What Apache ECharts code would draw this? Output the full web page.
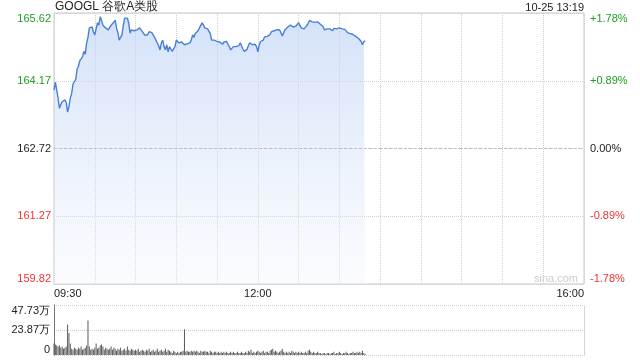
<!DOCTYPE html>
<html>
<head>
<meta charset="utf-8">
<script src="https://cdn.jsdelivr.net/npm/echarts@6/dist/echarts.min.js"></script>
<style>
html,body{margin:0;padding:0;background:#fff;}
#c{width:640px;height:360px;}
</style>
</head>
<body>
<div id="c"></div>
<script>
// ---- data ----
const titleText = 'GOOGL 谷歌A类股';
const timeStamp = '10-25 13:19';
const prevClose = 162.72;
const priceRange = 2.90;      // ±1.78%
const priceStep = 1.45;
const timeLabels = {0: '09:30', 150: '12:00', 390: '16:00'};
const totalMinutes = 390;
// per-minute price from 09:30
const prices = [
163.97,164.14,164.12,163.80,163.58,163.66,163.72,163.68,163.76,163.70,
163.50,163.62,163.80,163.90,164.10,164.14,164.20,164.42,164.48,164.60,
164.62,164.68,164.80,164.74,164.98,165.10,165.30,165.26,165.32,165.22,
165.15,165.28,165.41,165.36,165.54,165.46,165.36,165.40,165.30,165.34,
165.26,165.30,165.36,165.32,165.42,165.47,165.30,165.20,165.04,165.10,
165.15,165.36,165.51,165.48,165.51,165.40,165.19,165.26,165.30,165.24,
165.28,165.26,165.22,165.30,165.26,165.22,165.18,165.14,165.11,165.16,
165.22,165.18,165.20,165.15,165.10,165.04,165.01,164.92,164.83,164.98,
165.04,164.90,164.83,164.94,164.79,164.90,164.85,164.80,164.76,164.90,
165.04,165.00,164.98,164.96,165.00,164.98,164.94,164.94,164.96,164.92,
164.98,165.04,165.15,165.10,165.18,165.19,165.24,165.30,165.34,165.41,
165.36,165.30,165.26,165.28,165.26,165.18,165.04,165.06,165.04,165.02,
165.01,164.98,165.00,164.98,164.95,165.00,164.98,165.01,164.95,164.90,
164.83,164.86,164.90,164.94,164.90,164.86,164.92,164.98,164.92,164.85,
164.80,164.76,164.84,164.92,164.98,164.96,164.94,164.92,164.95,164.90,
164.79,164.94,165.01,165.00,165.04,165.11,165.08,165.12,165.11,165.16,
165.22,165.20,165.24,165.22,165.26,165.24,165.26,165.27,165.13,165.20,
165.26,165.30,165.32,165.30,165.36,165.34,165.32,165.30,165.34,165.36,
165.41,165.38,165.30,165.32,165.28,165.30,165.35,165.40,165.46,165.44,
165.43,165.45,165.42,165.41,165.43,165.40,165.38,165.36,165.33,165.26,
165.29,165.28,165.26,165.28,165.26,165.24,165.29,165.26,165.28,165.27,
165.30,165.31,165.28,165.30,165.27,165.24,165.20,165.21,165.18,165.19,
165.16,165.15,165.12,165.10,165.08,165.04,165.01,164.94,165.01,165.02
];
// per-minute volume, 万 shares
const volumes = [
11,10,9,8,9,7,8,6,7,8,
29,21,11,6,5,7,6,5,7,6,
8,5,6,7,9,33,8,5,6,5,
7,11,6,7,9,10,8,5,7,6,
5,6,8,5,7,6,4,6,5,7,
4,5,6,4,8,5,4,6,5,4,
5,4,6,3,4,5,4,3,5,4,
6,3,4,5,3,4,6,3,4,5,
3,4,6,3,5,4,3,2,4,3,
2,3,2,3,3,4,24.5,3,4,3,
3,4,3,4,3,4,3,2,4,3,
3,4,3,3,2,4,3,2,3,3,
2,3,2,3,2,3,2,3,2,2,
3,2,3,2,2,3,2,2,3,2,
2,3,2,4,3,5,2,3,2,3,
4,3,2,3,4,2,3,3,2,4,
5,6,3,4,3,2,3,4,6,3,
2,3,2,3,2,4,3,2,3,2,
3,2,3,2,2,3,2,4,5,3,
2,3,2,2,3,2,2,1,2,2,
1,2,2,1,2,2,3,1,2,2,
3,2,1,2,2,3,2,1,2,2,
3,2,2,3,2,3,2,4,2,1
];
const volMax = 47.73;
const volLabels = ['0', '23.87万', '47.73万'];

// ---- chart ----
const GREEN = '#1e9e1e', RED = '#ee3333', DARK = '#222';
const FONT = 'Liberation Sans, Arial, sans-serif';
function colorOf(v){ return v > 1e-6 ? GREEN : (v < -1e-6 ? RED : DARK); }

const chart = echarts.init(document.getElementById('c'), null, {renderer: 'canvas'});
const priceData = prices.map((p, i) => [i, +(p - prevClose).toFixed(4)]);
const volData = volumes.map((v, i) => [i, v]);

chart.setOption({
  animation: false,
  textStyle: {fontFamily: FONT},
  title: [
    {text: titleText, left: 55, top: 1, padding: 0, textStyle: {fontSize: 12, fontWeight: 'normal', color: '#222', fontFamily: FONT}},
    {text: timeStamp, right: 56, top: 2, padding: 0, textStyle: {fontSize: 11, fontWeight: 'normal', color: '#222', fontFamily: FONT}}
  ],
  grid: [
    {left: 54, right: 56, top: 13, height: 271, show: true, borderColor: '#c8c8c8', borderWidth: 1, backgroundColor: 'transparent'},
    {left: 54, right: 56, top: 305, height: 50}
  ],
  xAxis: [
    {
      type: 'value', gridIndex: 0, min: 0, max: totalMinutes, interval: 30,
      axisLine: {show: false}, axisTick: {show: false},
      splitLine: {show: true, lineStyle: {color: '#cfcfcf', type: 'dotted'}},
      axisLabel: {
        show: true, margin: 4, fontSize: 11, color: '#222', fontFamily: FONT,
        alignMinLabel: 'left', alignMaxLabel: 'right', showMinLabel: true, showMaxLabel: true,
        formatter: v => timeLabels[v] || ''
      }
    },
    {
      type: 'value', gridIndex: 1, min: 0, max: totalMinutes, interval: 30,
      axisLine: {show: false}, axisTick: {show: false}, axisLabel: {show: false},
      splitLine: {show: false}
    }
  ],
  yAxis: [
    {
      type: 'value', gridIndex: 0, min: -priceRange, max: priceRange, interval: priceStep,
      axisLine: {show: false}, axisTick: {show: false},
      splitLine: {show: true, lineStyle: {color: '#cfcfcf', type: 'dotted'}},
      axisLabel: {
        margin: 3, fontSize: 11, fontFamily: FONT,
        verticalAlignMinLabel: 'bottom', verticalAlignMaxLabel: 'top',
        color: v => colorOf(v),
        formatter: v => (prevClose + v).toFixed(2)
      }
    },
    {
      type: 'value', gridIndex: 0, position: 'right', min: -priceRange, max: priceRange, interval: priceStep,
      axisLine: {show: false}, axisTick: {show: false}, splitLine: {show: false},
      axisLabel: {
        margin: 6, fontSize: 11, fontFamily: FONT,
        verticalAlignMinLabel: 'bottom', verticalAlignMaxLabel: 'top',
        color: v => colorOf(v),
        formatter: v => {
          const pct = v / prevClose * 100;
          if (Math.abs(pct) < 1e-6) return '0.00%';
          return (pct > 0 ? '+' : '') + pct.toFixed(2) + '%';
        }
      }
    },
    {
      type: 'value', gridIndex: 1, min: 0, max: volMax, interval: volMax / 2,
      axisLine: {show: true, lineStyle: {color: '#777', width: 1}}, axisTick: {show: false},
      splitLine: {show: true, lineStyle: {color: '#cfcfcf', type: 'dotted'}},
      axisLabel: {
        margin: 4, fontSize: 11, color: '#222', fontFamily: FONT,
        verticalAlignMinLabel: 'bottom', verticalAlignMaxLabel: 'top',
        formatter: (v, idx) => volLabels[idx]
      }
    },
    {
      type: 'value', gridIndex: 1, position: 'right', min: 0, max: volMax, interval: volMax / 2,
      axisLine: {show: true, lineStyle: {color: '#cfcfcf', type: 'dotted'}},
      axisTick: {show: false}, axisLabel: {show: false}, splitLine: {show: false}
    }
  ],
  graphic: [
    {type: 'text', right: 62, top: 273, silent: true,
     style: {text: 'sina.com', fontSize: 11, fontFamily: FONT, fill: '#cccccc'}}
  ],
  series: [
    {
      type: 'line', xAxisIndex: 0, yAxisIndex: 0, data: priceData,
      showSymbol: false, symbol: 'none',
      lineStyle: {color: '#4b7fd6', width: 1.4},
      areaStyle: {
        origin: 'start',
        color: new echarts.graphic.LinearGradient(0, 0, 0, 1, [
          {offset: 0, color: 'rgba(186,208,245,0.9)'},
          {offset: 1, color: 'rgba(240,245,253,0.5)'}
        ])
      },
      markLine: {
        silent: true, symbol: 'none', label: {show: false},
        lineStyle: {color: '#c0c0c0', type: [3, 2], width: 1},
        data: [{yAxis: 0}]
      }
    },
    {
      type: 'bar', xAxisIndex: 1, yAxisIndex: 2, data: volData,
      barWidth: 1, itemStyle: {color: '#5a5a5a'}
    }
  ]
});
</script>
</body>
</html>
